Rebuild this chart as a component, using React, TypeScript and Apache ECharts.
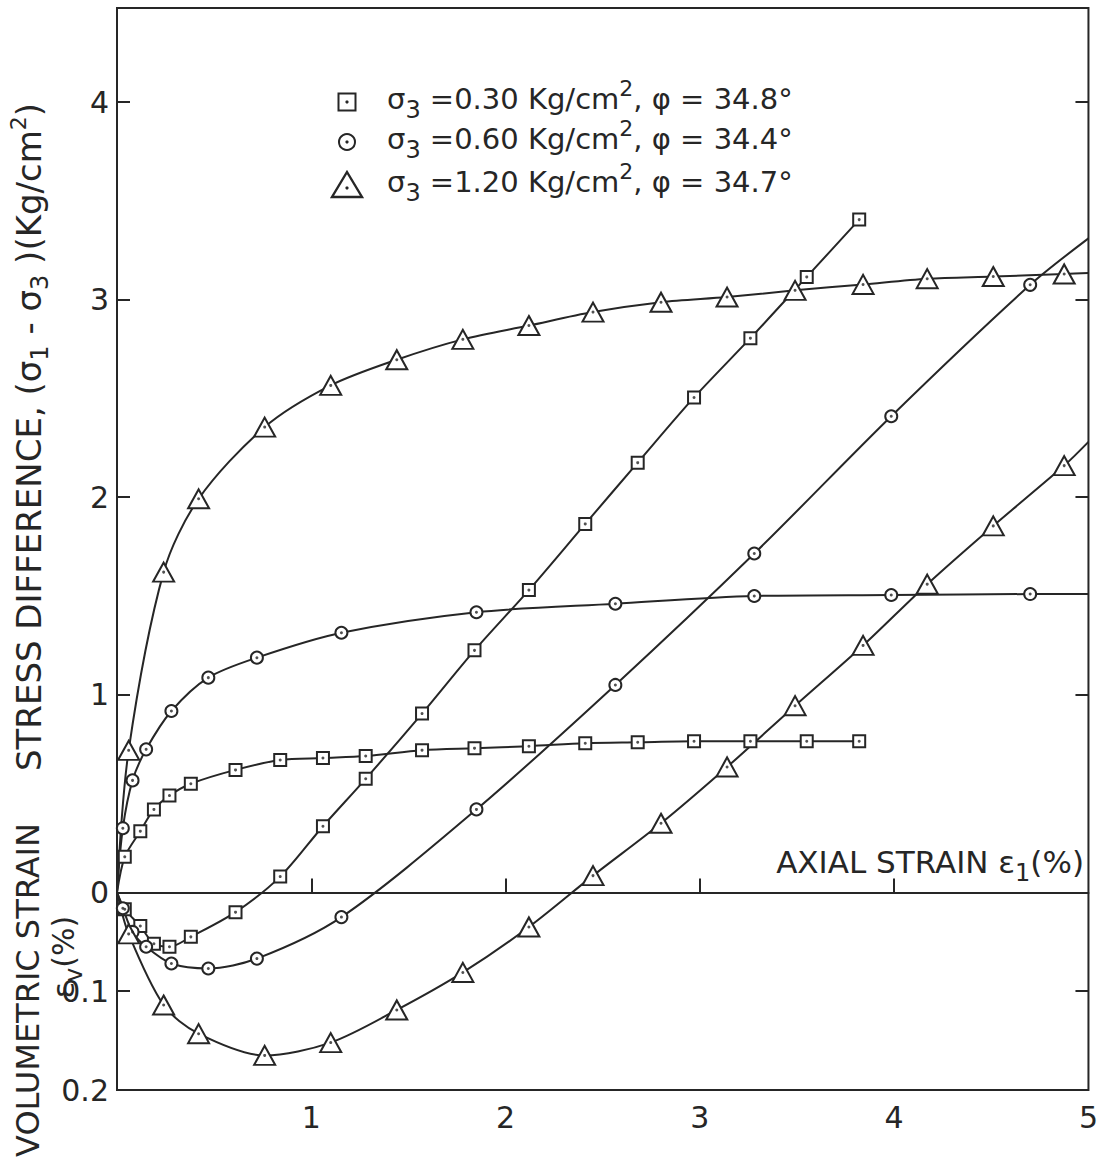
import React, { useEffect, useRef } from 'react';
import * as echarts from 'echarts';

// ---- Data ----
// Test A: sigma3 = 0.30 kg/cm2 (squares)
const strainA = [0.04, 0.12, 0.19, 0.27, 0.38, 0.61, 0.84, 1.06, 1.28, 1.57, 1.84, 2.12, 2.41, 2.68, 2.97, 3.26, 3.55, 3.82];
const stressA = [0.18, 0.31, 0.42, 0.49, 0.55, 0.62, 0.67, 0.68, 0.69, 0.72, 0.73, 0.74, 0.755, 0.76, 0.765, 0.765, 0.765, 0.765];
const volA = [0.017, 0.034, 0.052, 0.055, 0.045, 0.02, -0.016, -0.067, -0.115, -0.181, -0.245, -0.306, -0.373, -0.435, -0.501, -0.561, -0.623, -0.681];

// Test B: sigma3 = 0.60 kg/cm2 (circles)
const strainB = [0.03, 0.08, 0.15, 0.28, 0.47, 0.72, 1.155, 1.85, 2.565, 3.28, 3.985, 4.7];
const stressB = [0.325, 0.567, 0.724, 0.918, 1.087, 1.188, 1.314, 1.418, 1.461, 1.5, 1.505, 1.51];
const volB = [0.016, 0.04, 0.055, 0.072, 0.077, 0.067, 0.025, -0.084, -0.21, -0.343, -0.482, -0.615];

// Test C: sigma3 = 1.20 kg/cm2 (triangles)
const strainC = [0.06, 0.24, 0.42, 0.76, 1.1, 1.44, 1.78, 2.12, 2.45, 2.8, 3.14, 3.49, 3.84, 4.17, 4.51, 4.875];
const stressC = [0.719, 1.621, 1.992, 2.355, 2.566, 2.696, 2.799, 2.869, 2.937, 2.987, 3.013, 3.047, 3.077, 3.106, 3.117, 3.13];
const volC = [0.042, 0.114, 0.143, 0.165, 0.152, 0.119, 0.081, 0.035, -0.017, -0.07, -0.127, -0.189, -0.25, -0.312, -0.371, -0.432];

// Curve continuations to the right frame (no marker)
const tailStrain = 5.0;
const tailStressB = 1.51;
const tailVolB = -0.662;
const tailStressC = 3.135;
const tailVolC = -0.456;

// Legend / tick texts
const sigma3Labels = ['0.30', '0.60', '1.20'];
const phiLabels = ['34.8', '34.4', '34.7'];
const stressTicks = [1, 2, 3, 4];
const stressLabels = [0, 1, 2, 3, 4];
const volTicks = [0.1];
const volLabels = [0.1, 0.2];
const strainTicks = [1, 2, 3, 4];
const strainLabels = [1, 2, 3, 4, 5];

const INK = '#262626';
const FONT = 'DejaVu Sans';

function curve(strain: number[], vals: number[], yAxisIndex: number, symbol: string, size: any, tail?: number) {
  const data: any[] = [{ value: [0, 0], symbol: 'none' }];
  strain.forEach((x, i) => data.push([x, vals[i]]));
  if (tail !== undefined) data.push({ value: [tailStrain, tail], symbol: 'none' });
  return [
    {
      type: 'line',
      yAxisIndex,
      data,
      smooth: 0.3,
      symbol,
      symbolSize: size,
      showSymbol: true,
      showAllSymbol: true,
      lineStyle: { color: INK, width: 2 },
      itemStyle: { color: '#fff', borderColor: INK, borderWidth: 2 },
      z: 3,
      silent: true,
    },
    {
      type: 'scatter',
      yAxisIndex,
      data: strain.map((x, i) => [x, vals[i]]),
      symbol: 'circle',
      symbolSize: 3,
      itemStyle: { color: INK },
      z: 6,
      silent: true,
    },
  ];
}

const subStyle = { fontSize: 24, padding: [22, 0, 0, 0], fill: INK, fontFamily: FONT };
const supStyle = { fontSize: 22, padding: [0, 0, 22, 0], fill: INK, fontFamily: FONT };

export default function App() {
  const ref = useRef<HTMLDivElement>(null);
  useEffect(() => {
    const chart = echarts.init(ref.current!, null, { renderer: 'svg' });
    const legendY = [102, 142, 185];
    const legendGraphics: any[] = [];
    legendY.forEach((y, i) => {
      const mx = 347;
      if (i === 0) {
        legendGraphics.push({ type: 'rect', shape: { x: mx - 8.5, y: y - 8.5, width: 17, height: 17 }, style: { fill: '#fff', stroke: INK, lineWidth: 2 } });
        legendGraphics.push({ type: 'circle', shape: { cx: mx, cy: y, r: 1.6 }, style: { fill: INK } });
      } else if (i === 1) {
        legendGraphics.push({ type: 'circle', shape: { cx: mx, cy: y, r: 8 }, style: { fill: '#fff', stroke: INK, lineWidth: 2 } });
        legendGraphics.push({ type: 'circle', shape: { cx: mx, cy: y, r: 1.6 }, style: { fill: INK } });
      } else {
        legendGraphics.push({ type: 'polygon', shape: { points: [[mx, y - 13], [mx + 15, y + 12], [mx - 15, y + 12]] }, style: { fill: '#fff', stroke: INK, lineWidth: 2.4 } });
        legendGraphics.push({ type: 'circle', shape: { cx: mx, cy: y + 3, r: 1.6 }, style: { fill: INK } });
      }
      legendGraphics.push({
        type: 'text',
        x: 387,
        y: y - 3,
        style: {
          text: `{t|σ}{sub|3}{t| =${sigma3Labels[i]} Kg/cm}{sup|2}{t|, φ = ${phiLabels[i]}°}`,
          rich: {
            t: { fontSize: 29, fill: INK, fontFamily: FONT },
            sub: subStyle,
            sup: supStyle,
          },
          align: 'left',
          verticalAlign: 'middle',
        },
      });
    });

    const option: any = {
      animation: false,
      backgroundColor: '#fff',
      textStyle: { fontFamily: FONT, color: INK },
      grid: { left: 117, right: 9, top: 8, bottom: 69, show: true, borderColor: INK, borderWidth: 2, backgroundColor: 'transparent' },
      xAxis: {
        type: 'value',
        min: 0,
        max: 5,
        axisLine: { onZero: true, onZeroAxisIndex: 0, lineStyle: { color: INK, width: 2 } },
        axisTick: { show: true, inside: true, length: 14, customValues: strainTicks, lineStyle: { color: INK, width: 2 } },
        axisLabel: { customValues: strainLabels, fontSize: 30, color: INK, fontFamily: FONT, margin: 12 },
        splitLine: { show: false },
      },
      yAxis: [
        {
          type: 'value',
          position: 'left',
          min: -1,
          max: 4.476,
          axisLine: { show: false, onZero: false },
          axisTick: { show: true, inside: true, length: 13, customValues: stressTicks, lineStyle: { color: INK, width: 2 } },
          axisLabel: { customValues: stressLabels, fontSize: 30, color: INK, fontFamily: FONT, margin: 8 },
          splitLine: { show: false },
        },
        {
          type: 'value',
          position: 'left',
          inverse: true,
          min: -0.8952,
          max: 0.2,
          axisLine: { show: false, onZero: false },
          axisTick: { show: true, inside: true, length: 13, customValues: volTicks, lineStyle: { color: INK, width: 2 } },
          axisLabel: { customValues: volLabels, fontSize: 30, color: INK, fontFamily: FONT, margin: 8, formatter: (v: number) => v.toFixed(1) },
          splitLine: { show: false },
        },
        {
          type: 'value',
          position: 'right',
          min: -1,
          max: 4.476,
          axisLine: { show: false, onZero: false },
          axisTick: { show: true, inside: true, length: 13, customValues: stressTicks, lineStyle: { color: INK, width: 2 } },
          axisLabel: { show: false },
          splitLine: { show: false },
        },
        {
          type: 'value',
          position: 'right',
          inverse: true,
          min: -0.8952,
          max: 0.2,
          axisLine: { show: false, onZero: false },
          axisTick: { show: true, inside: true, length: 13, customValues: volTicks, lineStyle: { color: INK, width: 2 } },
          axisLabel: { show: false },
          splitLine: { show: false },
        },
      ],
      series: [
        ...curve(strainA, stressA, 0, 'rect', 12),
        ...curve(strainA, volA, 1, 'rect', 12),
        ...curve(strainB, stressB, 0, 'circle', 12, tailStressB),
        ...curve(strainB, volB, 1, 'circle', 12, tailVolB),
        ...curve(strainC, stressC, 0, 'triangle', [21, 19], tailStressC),
        ...curve(strainC, volC, 1, 'triangle', [21, 19], tailVolC),
      ],
      graphic: [
        {
          type: 'text',
          x: 29,
          y: 437,
          rotation: Math.PI / 2,
          style: {
            text: '{t|STRESS DIFFERENCE, (σ}{sub|1}{t| - σ}{sub|3}{t| )(Kg/cm}{sup|2}{t|)}',
            rich: { t: { fontSize: 34, fill: INK, fontFamily: FONT }, sub: subStyle, sup: supStyle },
            align: 'center',
            verticalAlign: 'middle',
          },
        },
        {
          type: 'text',
          x: 28,
          y: 990,
          rotation: Math.PI / 2,
          style: { text: 'VOLUMETRIC STRAIN', fontSize: 32, fill: INK, fontFamily: FONT, align: 'center', verticalAlign: 'middle' },
        },
        {
          type: 'text',
          x: 63,
          y: 957,
          rotation: Math.PI / 2,
          style: {
            text: '{t|ε}{sub|v}{t|(%)}',
            rich: { t: { fontSize: 30, fill: INK, fontFamily: FONT }, sub: subStyle },
            align: 'center',
            verticalAlign: 'middle',
          },
        },
        {
          type: 'text',
          x: 1084,
          y: 862,
          style: {
            text: '{t|AXIAL STRAIN ε}{sub|1}{t|(%)}',
            rich: { t: { fontSize: 31, fill: INK, fontFamily: FONT }, sub: subStyle },
            align: 'right',
            verticalAlign: 'middle',
          },
        },
        ...legendGraphics,
      ],
    };
    chart.setOption(option);
    return () => chart.dispose();
  }, []);
  return <div ref={ref} style={{ position: 'absolute', left: 0, top: 0, width: 1101, height: 1159 }} />;
}
